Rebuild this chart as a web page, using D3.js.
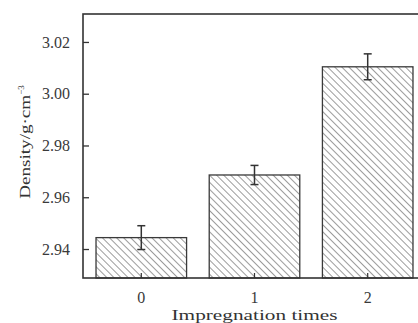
<!DOCTYPE html>
<html>
<head>
<meta charset="utf-8">
<script src="https://cdn.jsdelivr.net/npm/d3@7"></script>
<style>
  body { margin: 0; background: #fff; }
  svg { display: block; }
  svg text { font-family: "Liberation Serif", "DejaVu Serif", serif; }
</style>
</head>
<body>
<div id="chart"></div>
<script>
// density vs impregnation times, hatched bars with error bars

var categories = ["0", "1", "2"];
var densityValues = [2.9444, 2.9686, 3.0104];
var densityErrors = [0.0046, 0.0037, 0.0050];
var yTickValues = [2.94, 2.96, 2.98, 3.00, 3.02];

var width = 418, height = 323;
var margin = {top: 14, right: -8, bottom: 45, left: 83};
var innerW = width - margin.left - margin.right;
var innerH = height - margin.top - margin.bottom;

var svg = d3.select("#chart")
    .append("svg")
        .attr("width", width)
        .attr("height", height);

// diagonal hatch pattern
var defs = svg.append("defs");
defs.append("pattern")
    .attr("id", "hatch")
    .attr("patternUnits", "userSpaceOnUse")
    .attr("width", 5)
    .attr("height", 5)
    .attr("patternTransform", "rotate(-45)")
  .append("line")
    .attr("x1", 0).attr("y1", 0)
    .attr("x2", 0).attr("y2", 5)
    .attr("stroke", "#7a7a7a")
    .attr("stroke-width", 1.5);

var g = svg.append("g")
    .attr("transform", "translate(" + margin.left + "," + margin.top + ")");

var x = d3.scaleBand()
    .domain(categories)
    .range([0, innerW])
    .paddingInner(0.2)
    .paddingOuter(0.115);

var y = d3.scaleLinear()
    .domain([2.9288, 3.0308])
    .range([innerH, 0]);

// bars
g.selectAll(".bar")
    .data(densityValues)
    .enter()
    .append("rect")
    .attr("x", (d, i) => x(categories[i]))
    .attr("y", d => y(d))
    .attr("width", x.bandwidth())
    .attr("height", d => innerH - y(d))
    .attr("fill", "url(#hatch)")
    .attr("stroke", "#3a3a3a")
    .attr("stroke-width", 1.3);

// error bars
var capW = 4;
densityValues.forEach(function(d, i) {
    var cx = x(categories[i]) + x.bandwidth() / 2;
    var eb = g.append("g").attr("stroke", "#333").attr("stroke-width", 1.5);
    eb.append("line")
        .attr("x1", cx).attr("x2", cx)
        .attr("y1", y(d + densityErrors[i])).attr("y2", y(d - densityErrors[i]));
    eb.append("line")
        .attr("x1", cx - capW).attr("x2", cx + capW)
        .attr("y1", y(d + densityErrors[i])).attr("y2", y(d + densityErrors[i]));
    eb.append("line")
        .attr("x1", cx - capW).attr("x2", cx + capW)
        .attr("y1", y(d - densityErrors[i])).attr("y2", y(d - densityErrors[i]));
});

// y axis with inward ticks
var yAxis = g.append("g")
    .call(d3.axisLeft(y).tickValues(yTickValues).tickFormat(d3.format(".2f")).tickSize(-6).tickPadding(13));
yAxis.select(".domain").remove();
yAxis.selectAll("line").attr("stroke", "#333").attr("stroke-width", 1.3);
yAxis.selectAll("text")
    .attr("fill", "#3a3a3a")
    .style("font-size", "16px");

// x axis with inward ticks
var xAxis = g.append("g")
    .attr("transform", "translate(0," + innerH + ")")
    .call(d3.axisBottom(x).tickSize(-5).tickPadding(14));
xAxis.select(".domain").remove();
xAxis.selectAll("line").attr("stroke", "#333").attr("stroke-width", 1.2);
xAxis.selectAll("text")
    .attr("fill", "#3a3a3a")
    .style("font-size", "16px");

// frame
g.append("rect")
    .attr("x", 0).attr("y", 0)
    .attr("width", innerW).attr("height", innerH)
    .attr("fill", "none")
    .attr("stroke", "#333")
    .attr("stroke-width", 1.6);

// axis titles
svg.append("text")
    .attr("x", margin.left + (x("1") + x.bandwidth() / 2))
    .attr("y", 320)
    .attr("text-anchor", "middle")
    .attr("fill", "#333")
    .attr("textLength", 166)
    .attr("lengthAdjust", "spacingAndGlyphs")
    .style("font-size", "15px")
    .text("Impregnation times");

svg.append("text")
    .attr("transform", "translate(30,142) rotate(-90)")
    .attr("text-anchor", "middle")
    .attr("fill", "#333")
    .style("font-size", "15px")
    .html("<tspan textLength='104' lengthAdjust='spacingAndGlyphs'>Density/g·cm</tspan><tspan dy='-6' font-size='9px'>−3</tspan>");
</script>
</body>
</html>
